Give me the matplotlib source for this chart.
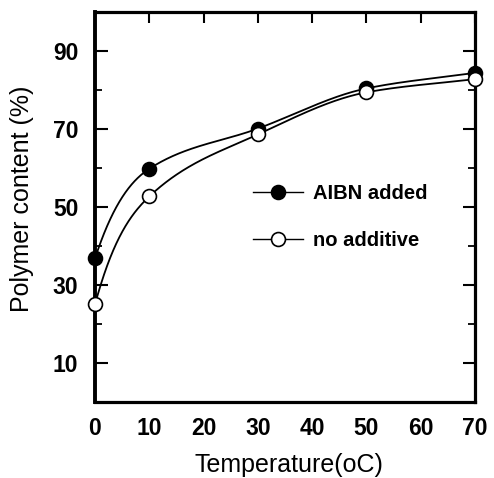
import numpy as np
import matplotlib
matplotlib.use("Agg")
import matplotlib.pyplot as plt
from matplotlib.ticker import MultipleLocator

# ---- data ----
temperature = [0, 10, 30, 50, 70]
aibn_added = [36.8, 59.8, 70.1, 80.4, 84.4]
no_additive = [25.0, 52.7, 68.6, 79.4, 82.8]
series_labels = ["AIBN added", "no additive"]
x_ticks = [0, 10, 20, 30, 40, 50, 60, 70]
y_ticks = [10, 30, 50, 70, 90]

plt.rcParams['font.family'] = ['Liberation Sans', 'DejaVu Sans']


def smooth(x, y, xs, end_factor=1.85):
    """Monotone cubic Hermite curve through the points (drawing only)."""
    x = np.asarray(x, float); y = np.asarray(y, float)
    h = np.diff(x); d = np.diff(y) / h
    n = len(x); m = np.zeros(n)
    for k in range(1, n - 1):
        if d[k - 1] * d[k] > 0:
            w1 = 2 * h[k] + h[k - 1]; w2 = h[k] + 2 * h[k - 1]
            m[k] = (w1 + w2) / (w1 / d[k - 1] + w2 / d[k])
    m[0] = end_factor * d[0]
    m[-1] = d[-1]
    out = np.empty_like(xs)
    for i, xv in enumerate(xs):
        k = min(max(np.searchsorted(x, xv) - 1, 0), n - 2)
        t = (xv - x[k]) / h[k]
        h00 = 2*t**3 - 3*t**2 + 1; h10 = t**3 - 2*t**2 + t
        h01 = -2*t**3 + 3*t**2; h11 = t**3 - t**2
        out[i] = h00*y[k] + h10*h[k]*m[k] + h01*y[k+1] + h11*h[k]*m[k+1]
    return out


fig = plt.figure(figsize=(4.94, 4.78), dpi=100)
ax = fig.add_axes([0.1923, 0.159, 0.7692, 0.8159])

xs = np.linspace(temperature[0], temperature[-1], 500)
for vals, face, lab in [(aibn_added, 'black', series_labels[0]),
                        (no_additive, 'white', series_labels[1])]:
    ax.plot(xs, smooth(temperature, vals, xs), color='black', lw=1.3, zorder=2)
    ax.plot(temperature, vals, 'o', ms=10, mfc=face, mec='black', mew=1.2,
            zorder=3, clip_on=False)
    ax.plot([], [], '-o', color='black', lw=1.0, ms=10, mfc=face, mec='black',
            mew=1.2, label=lab)

ax.set_xlim(0, 70)
ax.set_ylim(0, 100)
ax.set_xticks(x_ticks)
ax.set_yticks(y_ticks)
ax.yaxis.set_minor_locator(MultipleLocator(10))

ax.tick_params(axis='x', which='both', bottom=False, top=True, direction='in',
               length=8, width=1.5, labelsize=16.5, pad=11)
ax.tick_params(axis='y', which='major', left=True, right=True, direction='in',
               length=9, width=1.5, labelsize=16.5, pad=12)
ax.tick_params(axis='y', which='minor', left=True, right=True, direction='in',
               length=5, width=1.3)
for lbl in ax.get_xticklabels() + ax.get_yticklabels():
    lbl.set_fontweight('bold')

for s in ax.spines.values():
    s.set_linewidth(2.3)
ax.spines['left'].set_linewidth(2.8)

xl = ax.set_xlabel('Temperature(oC)', fontsize=18)
yl = ax.set_ylabel('Polymer content (%)', fontsize=18)
ax.xaxis.set_label_coords((289 - 95) / 380, (402 - 465) / 390)
ax.yaxis.set_label_coords((22 - 95) / 380, (402 - 199) / 390)
xl.set_va('center')
yl.set_va('center')

leg = ax.legend(loc='upper left', bbox_to_anchor=(253 / 494, 1 - 184 / 478),
                bbox_transform=fig.transFigure, frameon=False,
                prop={'size': 14.5, 'weight': 'bold'}, handlelength=2.5,
                handletextpad=0.5, labelspacing=1.4, borderpad=0,
                borderaxespad=0)

fig.savefig('out.png', dpi=100)
